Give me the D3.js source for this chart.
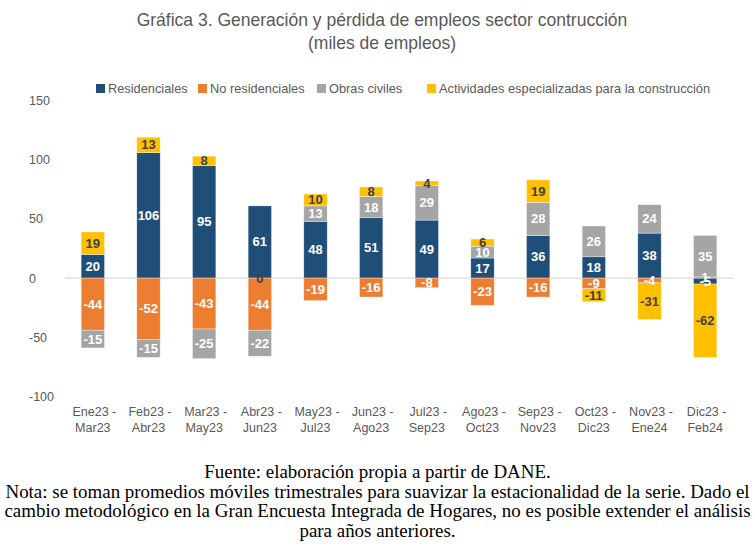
<!DOCTYPE html>
<html>
<head>
<meta charset="utf-8">
<script src="https://cdn.jsdelivr.net/npm/d3@7"></script>
<style>
  body { margin: 0; background: #fff; }
  svg { display: block; }
</style>
</head>
<body>
<svg id="chart" width="755" height="547"></svg>
<script>
// periodos (dos lineas por etiqueta)
const periods = [
    ["Ene23 -", "Mar23"], ["Feb23 -", "Abr23"], ["Mar23 -", "May23"], ["Abr23 -", "Jun23"],
    ["May23 -", "Jul23"], ["Jun23 -", "Ago23"], ["Jul23 -", "Sep23"], ["Ago23 -", "Oct23"],
    ["Sep23 -", "Nov23"], ["Oct23 -", "Dic23"], ["Nov23 -", "Ene24"], ["Dic23 -", "Feb24"]
];

const seriesNames = ["Residenciales", "No residenciales", "Obras civiles",
    "Actividades especializadas para la construcción"];

const residenciales   = [20, 106, 95, 61, 48, 51, 49, 17, 36, 18, 38, -5];
const noResidenciales = [-44, -52, -43, -44, -19, -16, -8, -23, -16, -9, -4, 1];
const obrasCiviles    = [-15, -15, -25, -22, 13, 18, 29, 10, 28, 26, 24, 35];
const actividades     = [19, 13, 8, 0, 10, 8, 4, 6, 19, -11, -31, -62];

const yTicks = [150, 100, 50, 0, -50, -100];

const COLORS = ["#1F4E79", "#ED7D31", "#A5A5A5", "#FFC000"];
const LABEL_COLORS = ["#FFFFFF", "#FFFFFF", "#FFFFFF", "#404040"];
const TEXT = "#595959";

const notes = [
    "Fuente: elaboración propia a partir de DANE.",
    "Nota: se toman promedios móviles trimestrales para suavizar la estacionalidad de la serie. Dado el",
    "cambio metodológico en la Gran Encuesta Integrada de Hogares, no es posible extender el análisis",
    "para años anteriores."
];

const svg = d3.select("#chart");

// arma filas para d3.stack
let rows = periods.map((p, i) => ({
    key: i,
    s0: residenciales[i],
    s1: noResidenciales[i],
    s2: obrasCiviles[i],
    s3: actividades[i]
}));
const keys = ["s0", "s1", "s2", "s3"];

const stacked = d3.stack()
    .keys(keys)
    .offset(d3.stackOffsetDiverging)(rows);

const area = { left: 65, right: 733, top: 100.5, bottom: 396.5 };

const scX = d3.scaleBand()
    .domain(periods.map((p, i) => i))
    .range([area.left, area.right])
    .paddingInner(0.58)
    .paddingOuter(0.29);

const scY = d3.scaleLinear()
    .domain([-100, 150])
    .range([area.bottom, area.top]);

function fitText(sel, target) {
    let w = sel.node().getComputedTextLength();
    let fs = parseFloat(sel.attr("font-size"));
    sel.attr("font-size", (fs * target / w).toFixed(2));
}

// titulo
let t1 = svg.append("text")
    .attr("x", 382).attr("y", 26)
    .attr("text-anchor", "middle")
    .attr("font-family", "Liberation Sans, Arial, sans-serif")
    .attr("font-size", 16)
    .attr("fill", TEXT)
    .text("Gráfica 3. Generación y pérdida de empleos sector contrucción");
fitText(t1, 491);
let t2 = svg.append("text")
    .attr("x", 382).attr("y", 49)
    .attr("text-anchor", "middle")
    .attr("font-family", "Liberation Sans, Arial, sans-serif")
    .attr("font-size", t1.attr("font-size"))
    .attr("fill", TEXT)
    .text("(miles de empleos)");

// leyenda
const legendX = [96, 198, 317, 427];
seriesNames.forEach((name, i) => {
    let g = svg.append("g").attr("transform", `translate(${legendX[i]}, 84)`);
    g.append("rect")
        .attr("width", 9).attr("height", 9)
        .attr("fill", COLORS[i]);
    g.append("text")
        .attr("x", 12).attr("y", 9)
        .attr("font-family", "Liberation Sans, Arial, sans-serif")
        .attr("font-size", 12.8)
        .attr("fill", TEXT)
        .text(name);
});

// eje y (solo etiquetas)
svg.append("g")
    .selectAll("text")
    .data(yTicks)
    .enter()
    .append("text")
    .attr("x", 29)
    .attr("y", d => scY(d) + 4.5)
    .attr("font-family", "Liberation Sans, Arial, sans-serif")
    .attr("font-size", 12.5)
    .attr("fill", TEXT)
    .text(d => d);

// linea de cero
svg.append("line")
    .attr("x1", area.left).attr("x2", area.right)
    .attr("y1", scY(0)).attr("y2", scY(0))
    .attr("stroke", "#D9D9D9")
    .attr("stroke-width", 1.3);

// barras
stacked.forEach((layer, i) => {
    svg.append("g")
        .selectAll("rect")
        .data(layer)
        .enter()
        .append("rect")
        .attr("x", d => scX(d.data.key))
        .attr("width", scX.bandwidth())
        .attr("y", d => scY(Math.max(d[0], d[1])))
        .attr("height", d => Math.abs(scY(d[0]) - scY(d[1])))
        .attr("fill", COLORS[i])
        .attr("stroke", "#FFFFFF")
        .attr("stroke-opacity", 0.6)
        .attr("stroke-width", 0.6);
});

// etiquetas de datos
stacked.forEach((layer, i) => {
    svg.append("g")
        .selectAll("text")
        .data(layer)
        .enter()
        .append("text")
        .attr("x", d => scX(d.data.key) + scX.bandwidth() / 2)
        .attr("y", d => scY((d[0] + d[1]) / 2) + 4.5)
        .attr("text-anchor", "middle")
        .attr("font-family", "Liberation Sans, Arial, sans-serif")
        .attr("font-weight", "bold")
        .attr("font-size", 13)
        .attr("fill", LABEL_COLORS[i])
        .text(d => d.data[keys[i]]);
});

// eje x
let xg = svg.append("g");
periods.forEach((p, i) => {
    let tx = xg.append("text")
        .attr("x", scX(i) + scX.bandwidth() / 2)
        .attr("y", 416)
        .attr("text-anchor", "middle")
        .attr("font-family", "Liberation Sans, Arial, sans-serif")
        .attr("font-size", 12.5)
        .attr("fill", TEXT);
    tx.append("tspan").attr("x", scX(i) + scX.bandwidth() / 2).attr("dx", 1.5).text(p[0]);
    tx.append("tspan").attr("x", scX(i) + scX.bandwidth() / 2).attr("y", 432).text(p[1]);
});

// notas al pie
let noteSel = svg.append("g")
    .selectAll("text")
    .data(notes)
    .enter()
    .append("text")
    .attr("x", 377.5)
    .attr("y", (d, i) => 478 + i * 19.5)
    .attr("text-anchor", "middle")
    .attr("font-family", "Liberation Serif, Times New Roman, serif")
    .attr("font-size", 16)
    .attr("fill", "#000000")
    .text(d => d);
let widest = d3.select(noteSel.nodes()[1]);
let w = widest.node().getComputedTextLength();
noteSel.attr("font-size", (16 * 745 / w).toFixed(2));
</script>
</body>
</html>
